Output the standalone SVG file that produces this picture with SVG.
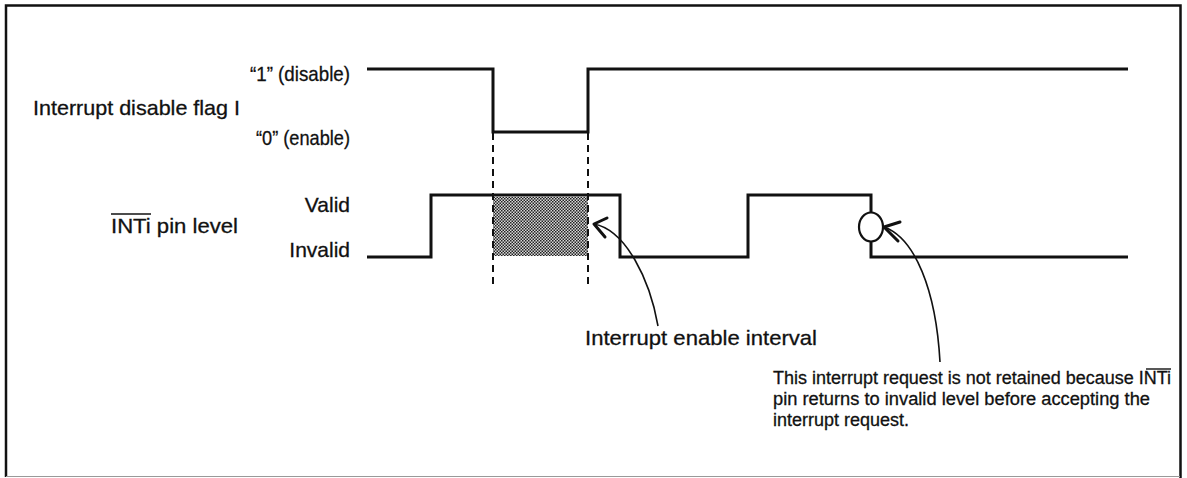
<svg xmlns="http://www.w3.org/2000/svg" width="1187" height="478" viewBox="0 0 1187 478">
<defs>
<pattern id="dots" width="3" height="3" patternUnits="userSpaceOnUse">
<rect width="3" height="3" fill="#d8d8d8"/>
<rect x="0" y="0" width="1.5" height="1.5" fill="#222"/>
<rect x="1.5" y="1.5" width="1.5" height="1.5" fill="#222"/>
</pattern>
</defs>
<style>
text{font-family:"Liberation Sans",Arial,sans-serif;fill:#111;stroke:#111;stroke-width:0.3}
.lbl{font-size:21px}
.note{font-size:18px}
.wave{fill:none;stroke:#111;stroke-width:3}
.dash{fill:none;stroke:#111;stroke-width:2;stroke-dasharray:7,5}
.curve{fill:none;stroke:#111;stroke-width:1.6}
.head{fill:none;stroke:#111;stroke-width:3;stroke-linecap:round;stroke-linejoin:round}
.ovl{stroke:#111;stroke-width:1.4}
</style>
<rect width="1187" height="478" fill="#fff"/>
<g id="frame">
<path d="M6,477 V5.5 H1180.5 V478" fill="none" stroke="#111" stroke-width="2.5"/>
<path d="M6,476.5 H1180" fill="none" stroke="#999" stroke-width="1"/>
</g>
<g id="flag-label">
<text class="lbl" x="33" y="115" textLength="207" lengthAdjust="spacingAndGlyphs">Interrupt disable flag I</text>
<text class="lbl" x="250" y="81" textLength="100" lengthAdjust="spacingAndGlyphs">“1” (disable)</text>
<text class="lbl" x="256" y="145" textLength="94" lengthAdjust="spacingAndGlyphs">“0” (enable)</text>
</g>
<g id="int-label">
<text class="lbl" x="111" y="233" textLength="127" lengthAdjust="spacingAndGlyphs">INTi pin level</text>
<line class="ovl" x1="111" y1="214" x2="151" y2="214"/>
<text class="lbl" x="350" y="212" text-anchor="end">Valid</text>
<text class="lbl" x="350" y="257" text-anchor="end">Invalid</text>
</g>
<g id="interval">
<rect x="493" y="197" width="95" height="59" fill="url(#dots)"/>
<line class="dash" x1="493" y1="133" x2="493" y2="287"/>
<line class="dash" x1="588" y1="133" x2="588" y2="287"/>
</g>
<g id="flag-wave">
<path class="wave" d="M367,69 H493 V132 H588 V69 H1128"/>
</g>
<g id="int-wave">
<path class="wave" d="M367,257 H431 V195 H620 V257 H748 V195 H871 V213"/>
<ellipse cx="871" cy="227" rx="12" ry="14.5" fill="none" stroke="#111" stroke-width="2.2"/>
<path class="wave" d="M871,241.5 V257 H1128"/>
</g>
<g id="connectors">
<path class="curve" d="M594,224 C626,230 650,280 658,326"/>
<path class="head" d="M607,218 L594,224 L605,237"/>
<path class="curve" d="M884,227 C915,238 936,290 940,362"/>
<path class="head" d="M900,222 L884,227 L898,241"/>
</g>
<g id="interval-note">
<text class="lbl" x="585" y="345" textLength="232" lengthAdjust="spacingAndGlyphs">Interrupt enable interval</text>
</g>
<g id="request-note">
<text class="note" x="773" y="384" textLength="398" lengthAdjust="spacingAndGlyphs">This interrupt request is not retained because INTi</text>
<line class="ovl" x1="1146" y1="369" x2="1171" y2="369"/>
<text class="note" x="773" y="405" textLength="377" lengthAdjust="spacingAndGlyphs">pin returns to invalid level before accepting the</text>
<text class="note" x="773" y="426" textLength="136" lengthAdjust="spacingAndGlyphs">interrupt request.</text>
</g>
</svg>
